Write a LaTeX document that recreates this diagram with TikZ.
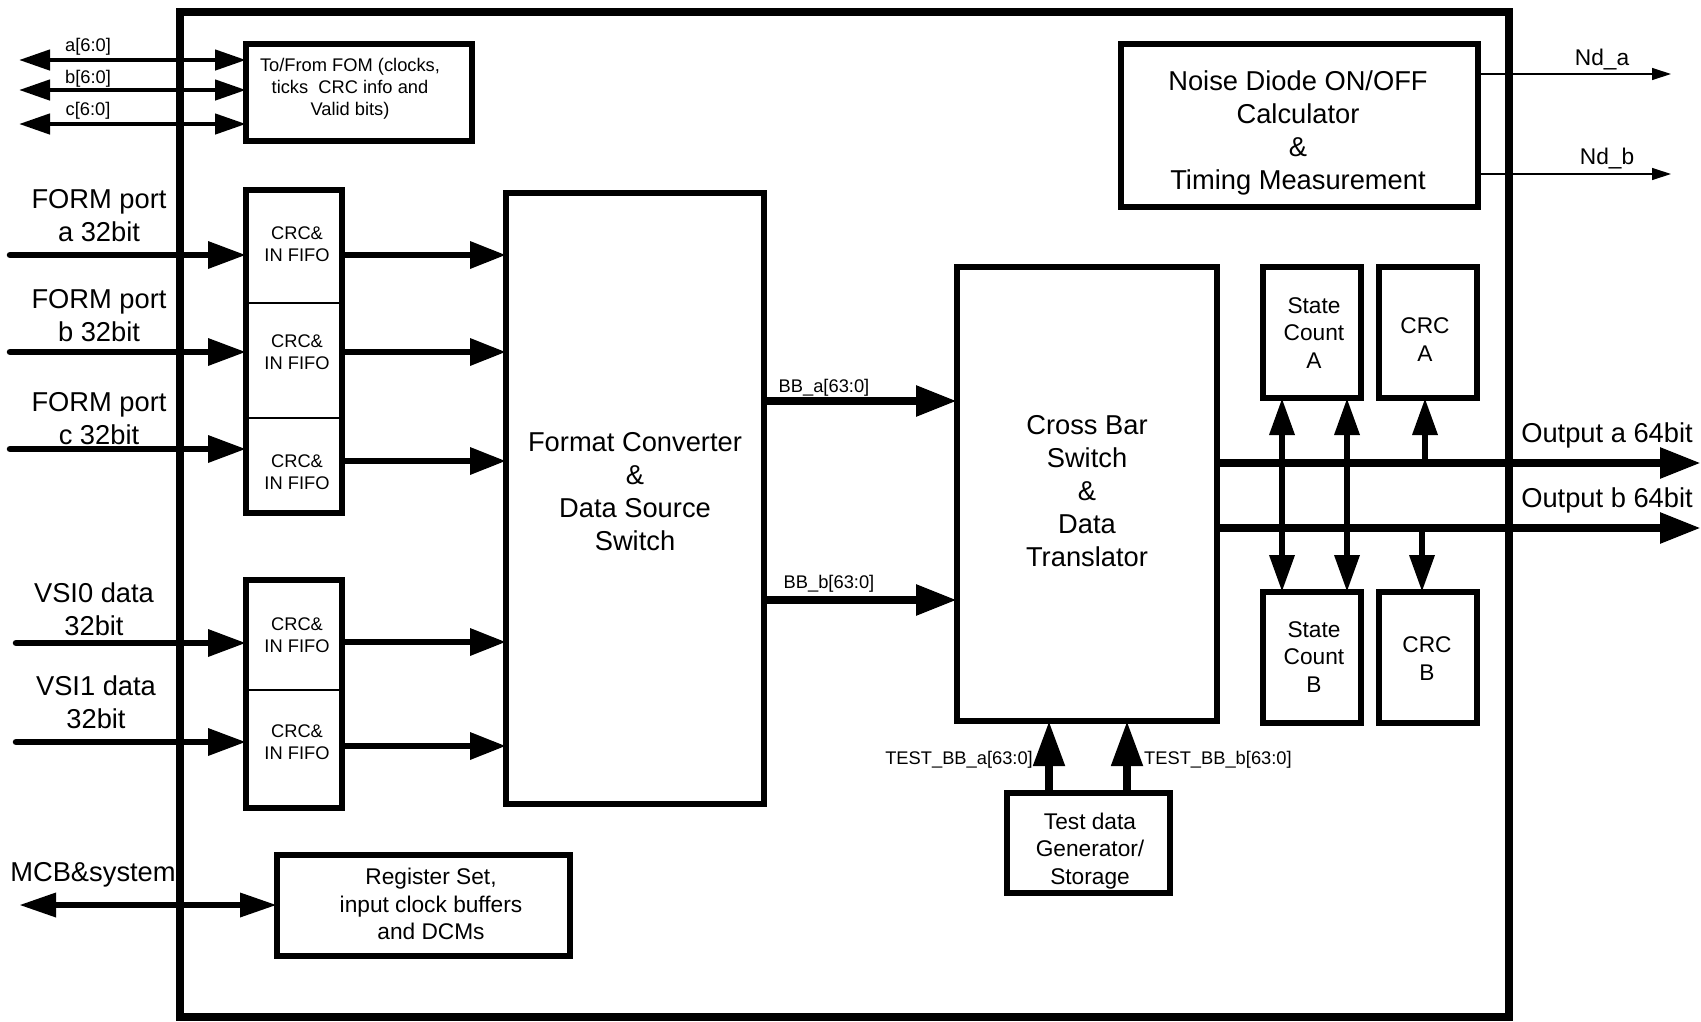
\documentclass[tikz,border=0pt]{standalone}
\usepackage{fontspec}
\setmainfont{Liberation Sans}
\usetikzlibrary{arrows.meta}
\newcommand\fbig{\fontsize{27.3}{33}\selectfont}
\newcommand\fmed{\fontsize{22.7}{27.5}\selectfont}
\newcommand\fsml{\fontsize{18.3}{22}\selectfont}
\begin{document}
\begin{tikzpicture}[x=1pt,y=-1pt,
  box/.style={draw, line width=6pt, inner sep=0pt, outer sep=0pt},
  cell/.style={draw, line width=2pt, inner sep=0pt, outer sep=0pt},
  txt/.style={inner sep=0pt, align=center},
  fomarr/.style={line width=4.5pt, {Triangle[length=31pt,width=20pt]}-{Triangle[length=31pt,width=20pt]}},
  inarr/.style={line width=6.5pt, line cap=round, -{Triangle[length=38pt,width=26pt]}},
  midarr/.style={line width=6.5pt, -{Triangle[length=36pt,width=26pt]}},
  mcbarr/.style={line width=6.5pt, {Triangle[length=37pt,width=23pt]}-{Triangle[length=37pt,width=23pt]}},
  busarr/.style={line width=8.5pt, -{Triangle[length=41pt,width=29pt]}},
  tap/.style={line width=6.5pt, -{Triangle[length=37pt,width=24pt]}},
  dtap/.style={line width=6.5pt, {Triangle[length=37pt,width=24pt]}-{Triangle[length=37pt,width=24pt]}},
  testarr/.style={line width=8pt, -{Triangle[length=45pt,width=30pt]}},
  ndarr/.style={line width=1.2pt, -{Triangle[length=19pt,width=12pt]}}
]
\useasboundingbox (0,0) rectangle (1701,1021);

% outer frame
\node[draw, line width=8pt, inner sep=0pt, outer sep=0pt, minimum width=1329pt, minimum height=1005pt] (frame) at (844.5,514.5) {};

% boxes
\node[box, minimum width=226pt, minimum height=97pt] (fom) at (359,92.5) {};
\node[box, minimum width=357pt, minimum height=163pt] (noise) at (1299.5,125.5) {};
\node[box, minimum width=258pt, minimum height=611pt] (fmt) at (635,498.5) {};
\node[box, minimum width=260pt, minimum height=454pt] (xbar) at (1087,494) {};
\node[box, minimum width=98pt, minimum height=131pt] (sca) at (1312,332.5) {};
\node[box, minimum width=98pt, minimum height=131pt] (crca) at (1428,332.5) {};
\node[box, minimum width=98pt, minimum height=131pt] (scb) at (1312,657.5) {};
\node[box, minimum width=98pt, minimum height=131pt] (crcb) at (1428,657.5) {};
\node[box, minimum width=163pt, minimum height=100pt] (test) at (1088.5,843) {};
\node[box, minimum width=293pt, minimum height=101pt] (reg) at (423.5,905.5) {};

% FIFO cells
\node[cell, minimum width=96pt, minimum height=113pt] (fifo1) at (294,246.5) {};
\node[cell, minimum width=96pt, minimum height=115pt] (fifo2) at (294,360.5) {};
\node[cell, minimum width=96pt, minimum height=95pt] (fifo3) at (294,465.5) {};
\node[cell, minimum width=96pt, minimum height=110pt] (fifo4) at (294,635) {};
\node[cell, minimum width=96pt, minimum height=118pt] (fifo5) at (294,749) {};
\draw[line width=6pt] (fifo1.north west) rectangle (fifo3.south east);
\draw[line width=6pt] (fifo4.north west) rectangle (fifo5.south east);

% box texts
\node[txt, font=\fsml] (tfom) at (350,89) {To/From FOM (clocks,\\ticks\ \ CRC info and\\Valid bits)};
\node[txt, font=\fbig] (tnoise) at (1298,132.5) {Noise Diode ON/OFF\\Calculator\\\&\\Timing Measurement};
\node[txt, font=\fsml] (tf1) at (297,244.5) {CRC\&\\IN FIFO};
\node[txt, font=\fsml] (tf2) at (297,352.5) {CRC\&\\IN FIFO};
\node[txt, font=\fsml] (tf3) at (297,472.5) {CRC\&\\IN FIFO};
\node[txt, font=\fsml] (tf4) at (297,635) {CRC\&\\IN FIFO};
\node[txt, font=\fsml] (tf5) at (297,742.5) {CRC\&\\IN FIFO};
\node[txt, font=\fbig] (tfmt) at (635,492) {Format Converter\\\&\\Data Source\\Switch};
\node[txt, font=\fbig] (txbar) at (1087,491) {Cross Bar\\Switch\\\&\\Data\\Translator};
\node[txt, font=\fmed] (tsca) at (1314,333) {State\\Count\\A};
\node[txt, font=\fmed] (tcrca) at (1425,339.5) {CRC\\A};
\node[txt, font=\fmed] (tscb) at (1314,657) {State\\Count\\B};
\node[txt, font=\fmed] (tcrcb) at (1427,658.5) {CRC\\B};
\node[txt, font=\fmed] (ttest) at (1090,851) {Test data\\Generator/\\Storage};
\node[txt, font=\fmed] (treg) at (431,904) {Register Set,\\input clock buffers\\and DCMs};

% outside labels
\node[txt, font=\fsml] (la) at (88,47) {a[6:0]};
\node[txt, font=\fsml] (lb) at (88,79) {b[6:0]};
\node[txt, font=\fsml] (lc) at (88,111) {c[6:0]};
\node[txt, font=\fbig] (lpa) at (99,215.5) {FORM port\\a 32bit};
\node[txt, font=\fbig] (lpb) at (99,316) {FORM port\\b 32bit};
\node[txt, font=\fbig] (lpc) at (99,418.5) {FORM port\\c 32bit};
\node[txt, font=\fbig] (lv0) at (94,609) {VSI0 data\\32bit};
\node[txt, font=\fbig] (lv1) at (96,702) {VSI1 data\\32bit};
\node[txt, font=\fbig] (lmcb) at (93,875) {MCB\&system};
\node[txt, font=\fbig] (loa) at (1607,435) {Output a 64bit};
\node[txt, font=\fbig] (lob) at (1607,500) {Output b 64bit};
\node[txt, font=\fmed] (lnda) at (1602,60) {Nd\_a};
\node[txt, font=\fmed] (lndb) at (1607,159) {Nd\_b};
\node[txt, font=\fsml] (lbba) at (824,388) {BB\_a[63:0]};
\node[txt, font=\fsml] (lbbb) at (829,584) {BB\_b[63:0]};
\node[txt, font=\fsml, anchor=east] (lta) at (1033,760) {TEST\_BB\_a[63:0]};
\node[txt, font=\fsml, anchor=west] (ltb) at (1144,760) {TEST\_BB\_b[63:0]};

% FOM arrows
\coordinate (fa) at (19,60);
\coordinate (fb) at (19,90);
\coordinate (fc) at (19,124);
\draw[fomarr] (fa) -- (fa -| fom.west);
\draw[fomarr] (fb) -- (fb -| fom.west);
\draw[fomarr] (fc) -- (fc -| fom.west);

% FORM inputs
\coordinate (ina) at (10,255);
\coordinate (inb) at (10,352);
\coordinate (inc) at (10,449);
\coordinate (inv0) at (16,643);
\coordinate (inv1) at (16,742);
\draw[inarr] (ina) -- (ina -| fifo1.west);
\draw[inarr] (inb) -- (inb -| fifo2.west);
\draw[inarr] (inc) -- (inc -| fifo3.west);
\draw[inarr] (inv0) -- (inv0 -| fifo4.west);
\draw[inarr] (inv1) -- (inv1 -| fifo5.west);

% FIFO outputs
\coordinate (oa) at (0,255);
\coordinate (ob) at (0,352);
\coordinate (oc) at (0,461);
\coordinate (ov0) at (0,642);
\coordinate (ov1) at (0,746);
\draw[midarr] (fifo1.east |- oa) -- (fmt.west |- oa);
\draw[midarr] (fifo2.east |- ob) -- (fmt.west |- ob);
\draw[midarr] (fifo3.east |- oc) -- (fmt.west |- oc);
\draw[midarr] (fifo4.east |- ov0) -- (fmt.west |- ov0);
\draw[midarr] (fifo5.east |- ov1) -- (fmt.west |- ov1);

% MCB
\coordinate (mcb) at (19,905);
\draw[mcbarr] (mcb) -- (mcb -| reg.west);

% BB buses
\coordinate (bba) at (0,401);
\coordinate (bbb) at (0,600);
\draw[busarr] (fmt.east |- bba) -- (xbar.west |- bba);
\draw[busarr] (fmt.east |- bbb) -- (xbar.west |- bbb);

% outputs
\coordinate (outa) at (1701,463);
\coordinate (outb) at (1701,528);
\draw[busarr] (xbar.east |- outa) -- (outa);
\draw[busarr] (xbar.east |- outb) -- (outb);

% taps
\coordinate (t1) at (1282,0);
\coordinate (t2) at (1347,0);
\draw[dtap] (t1 |- sca.south) -- (t1 |- scb.north);
\draw[dtap] (t2 |- sca.south) -- (t2 |- scb.north);
\coordinate (t3) at (1425,463);
\coordinate (t4) at (1422,528);
\draw[tap] (t3) -- (t3 |- crca.south);
\draw[tap] (t4) -- (t4 |- crcb.north);

% test arrows
\coordinate (t5) at (1049,0);
\coordinate (t6) at (1127,0);
\draw[testarr] (t5 |- test.north) -- (t5 |- xbar.south);
\draw[testarr] (t6 |- test.north) -- (t6 |- xbar.south);

% Nd arrows
\coordinate (nda) at (1671,74);
\coordinate (ndb) at (1671,174);
\draw[ndarr] (noise.east |- nda) -- (nda);
\draw[ndarr] (noise.east |- ndb) -- (ndb);
\end{tikzpicture}
\end{document}
